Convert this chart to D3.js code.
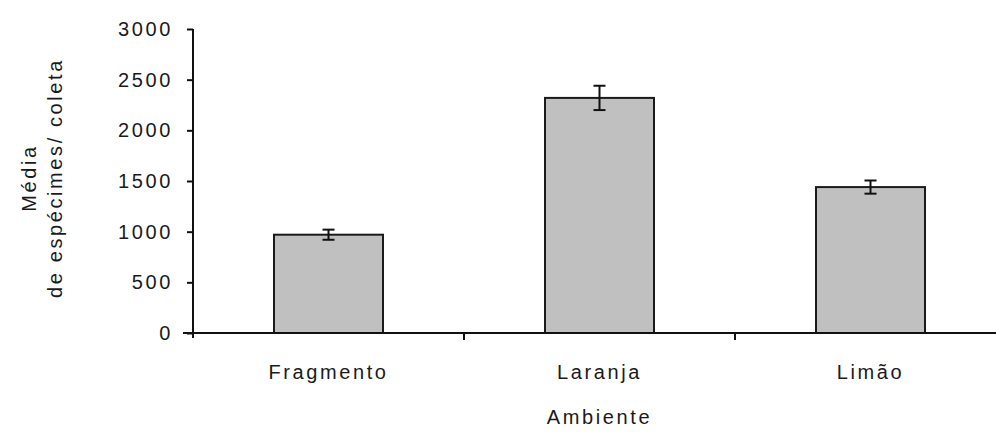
<!DOCTYPE html>
<html><head><meta charset="utf-8">
<script src="https://cdn.jsdelivr.net/npm/d3@7/dist/d3.min.js"></script>
<style>body{margin:0;background:#fff}svg{display:block}text{font-family:"Liberation Sans",Arial,sans-serif;fill:#1a1a1a}</style>
</head><body>
<svg id="c" width="996" height="432"></svg>
<script>
const categories = ["Fragmento", "Laranja", "Limão"];
const means = [970, 2320, 1440];
const errors = [50, 120, 65];
const yTicks = [0, 500, 1000, 1500, 2000, 2500, 3000];
const yTitle = ["Média", "de espécimes/ coleta"];
const xTitle = "Ambiente";

const svg = d3.select("#c");
const x0 = 193, y0 = 333, yTop = 29, bandW = 271;
const x = d3.scaleBand().domain(categories).range([x0, x0 + bandW * categories.length]).paddingInner(0).paddingOuter(0);
const y = d3.scaleLinear().domain([0, 3000]).range([y0, yTop]);
const barW = 109;
const fs = 20, ls = 2.6;

// bars
svg.selectAll("rect.bar").data(categories).join("rect")
  .attr("x", d => x(d) + x.bandwidth()/2 - barW/2)
  .attr("y", (d,i) => y(means[i]))
  .attr("width", barW)
  .attr("height", (d,i) => y0 - y(means[i]))
  .attr("fill", "#c0c0c0").attr("stroke", "#1a1a1a").attr("stroke-width", 2);

// error bars
const eg = svg.append("g").attr("stroke", "#111").attr("stroke-width", 2);
categories.forEach((c, i) => {
  const cx = x(c) + x.bandwidth()/2;
  eg.append("line").attr("x1", cx).attr("x2", cx).attr("y1", y(means[i]+errors[i])).attr("y2", y(means[i]-errors[i]));
  [means[i]+errors[i], means[i]-errors[i]].forEach(v => {
    eg.append("line").attr("x1", cx-6).attr("x2", cx+6).attr("y1", y(v)).attr("y2", y(v));
  });
});

// y axis
const ya = svg.append("g").attr("transform", `translate(${x0},0)`)
  .call(d3.axisLeft(y).tickValues(yTicks).tickFormat(d3.format("d")).tickSize(6).tickPadding(14).tickSizeOuter(0));
ya.select(".domain").remove();
ya.append("line").attr("x1",0).attr("x2",0).attr("y1",yTop).attr("y2",y0+5).attr("stroke","#111").attr("stroke-width",2);
ya.selectAll(".tick line").attr("stroke","#111").attr("stroke-width",2);
ya.selectAll(".tick text").attr("font-size", fs).attr("letter-spacing", ls).attr("fill","#1a1a1a").style("font-family","'Liberation Sans',Arial,sans-serif");

// x axis
const xa = svg.append("g").attr("transform", `translate(0,${y0})`);
xa.append("line").attr("x1", x0-10).attr("x2", 996).attr("y1",0).attr("y2",0).attr("stroke","#111").attr("stroke-width",2);
const bounds = categories.map(c => x(c)).concat([x(categories[categories.length-1]) + x.bandwidth()]);
xa.selectAll("line.tk").data(bounds.slice(1)).join("line").attr("class","tk")
  .attr("x1", d=>d).attr("x2", d=>d).attr("y1",0).attr("y2",7).attr("stroke","#111").attr("stroke-width",2);
xa.selectAll("text").data(categories).join("text")
  .attr("x", d => x(d) + x.bandwidth()/2).attr("y", 46)
  .attr("text-anchor","middle").attr("font-size", fs).attr("letter-spacing", ls).text(d => d);

svg.append("text").attr("x", x0 + bandW*1.5).attr("y", 424).attr("text-anchor","middle")
  .attr("font-size", fs).attr("letter-spacing", ls).text(xTitle);

const yt = svg.append("text").attr("transform","translate(36,178) rotate(-90)").attr("text-anchor","middle")
  .attr("font-size", fs).attr("letter-spacing", ls);
yTitle.forEach((t,i) => yt.append("tspan").attr("x",0).attr("dy", i===0 ? 0 : 26).text(t));
</script>
</body></html>
